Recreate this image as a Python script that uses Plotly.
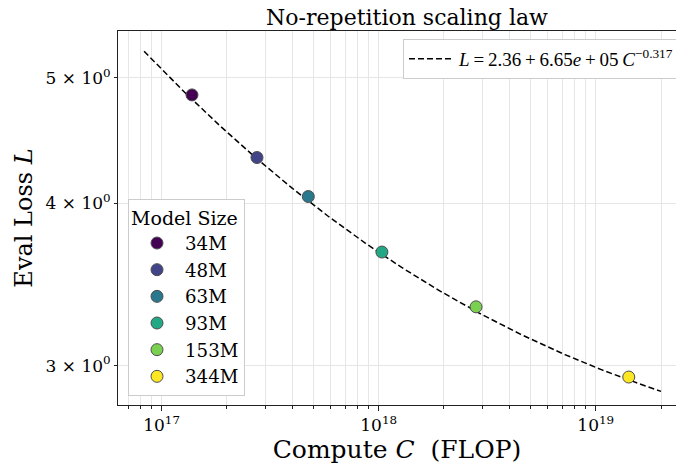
import numpy as np
import plotly.graph_objects as go

# ---- data ----
model_sizes = ["34M", "48M", "63M", "93M", "153M", "344M"]
compute_flop = [1.38e17, 2.75e17, 4.74e17, 1.035e18, 2.81e18, 1.42e19]
eval_loss = [4.85, 4.34, 4.05, 3.67, 3.33, 2.94]
point_colors = ["#440154", "#414487", "#2a788e", "#22a884", "#7ad151", "#fde725"]

# fit parameters stated in the chart legend: L = A + B * C^(-alpha)
fit_A = 2.36
fit_B = 6.65e5
fit_alpha = 0.317
fit_C_start = 8.3e16
fit_C_end = 2.0e19

x_tick_vals = [1e17, 1e18, 1e19]
x_tick_text = ["10<sup>17</sup>", "10<sup>18</sup>", "10<sup>19</sup>"]
y_tick_vals = [3, 4, 5]
y_tick_text = ["3 × 10<sup>0</sup>", "4 × 10<sup>0</sup>", "5 × 10<sup>0</sup>"]

SERIF = "DejaVu Serif"
GRID = "#e6e6e6"
TS = "\u2009"  # thin space

fig = go.Figure()

# fitted curve
c_fit = np.logspace(np.log10(fit_C_start), np.log10(fit_C_end), 200)
l_fit = fit_A + fit_B * c_fit ** (-fit_alpha)
fit_label = (f"<i>L</i>{TS}={TS}2.36{TS}+{TS}6.65<i>e</i>{TS}+{TS}05{TS}"
             f"<i>C</i><sup>−0.317</sup>")
fig.add_trace(go.Scatter(
    x=c_fit, y=l_fit, mode="lines",
    line=dict(color="black", width=1.5, dash="6px,3px"),
    name=fit_label,
    legend="legend2",
))

for name, cx, ly, col in zip(model_sizes, compute_flop, eval_loss, point_colors):
    fig.add_trace(go.Scatter(
        x=[cx], y=[ly], mode="markers", name=name,
        marker=dict(size=12, color=col, line=dict(color="#4d4d4d", width=1)),
        legend="legend",
    ))

# minor x ticks (2..9 x 10^n)
minor_vals = [m * 10.0 ** e for e in (16, 17, 18, 19) for m in range(2, 10)]

fig.update_layout(
    width=676, height=466,
    margin=dict(l=118, r=0, t=31, b=61, autoexpand=False),
    paper_bgcolor="white", plot_bgcolor="white",
    font=dict(family=SERIF, size=17, color="black"),
    title=dict(text="No-repetition scaling law", x=407 / 676, xanchor="center",
               y=1 - 17 / 466, yanchor="middle",
               font=dict(family=SERIF, size=22, color="black")),
    xaxis=dict(
        type="log", range=[16.799, 19.370],
        tickmode="array", tickvals=x_tick_vals, ticktext=x_tick_text,
        ticks="outside", ticklen=5, tickcolor="#222",
        showgrid=True, gridcolor=GRID, gridwidth=1,
        showline=True, linecolor="#222", linewidth=1, mirror=True,
        minor=dict(tickmode="array", tickvals=minor_vals, ticks="outside",
                   ticklen=3, tickcolor="#222", showgrid=True,
                   gridcolor=GRID, gridwidth=1),
        tickfont=dict(family=SERIF, size=17),
        title=dict(text="Compute <i>C</i>&nbsp;&nbsp;(FLOP)",
                   font=dict(family=SERIF, size=25), standoff=3),
        zeroline=False,
    ),
    yaxis=dict(
        type="log", range=[0.4468, 0.735],
        tickmode="array", tickvals=y_tick_vals, ticktext=y_tick_text,
        ticks="outside", ticklen=3, tickcolor="#222",
        showgrid=True, gridcolor=GRID, gridwidth=1,
        showline=True, linecolor="#222", linewidth=1, mirror=True,
        tickfont=dict(family=SERIF, size=17),
        title=dict(text="Eval Loss <i>L</i>",
                   font=dict(family=SERIF, size=24), standoff=6),
        zeroline=False,
    ),
    legend=dict(
        title=dict(text="Model Size", font=dict(family=SERIF, size=19), side="top"),
        font=dict(family=SERIF, size=18.2),
        itemwidth=46,
        x=(128 - 118) / 558, y=(405 - 396) / 374, xanchor="left", yanchor="bottom",
        bgcolor="white", bordercolor="#cccccc", borderwidth=1,
    ),
    legend2=dict(
        font=dict(family="Liberation Serif", size=19),
        itemwidth=45,
        x=(403 - 118) / 558, y=1 - (39 - 31) / 374, xanchor="left", yanchor="top",
        bgcolor="white", bordercolor="#cccccc", borderwidth=1,
    ),
    showlegend=True,
)

fig.write_html("out.html", config={"displayModeBar": False},
               post_script="document.body.style.margin='0';")
